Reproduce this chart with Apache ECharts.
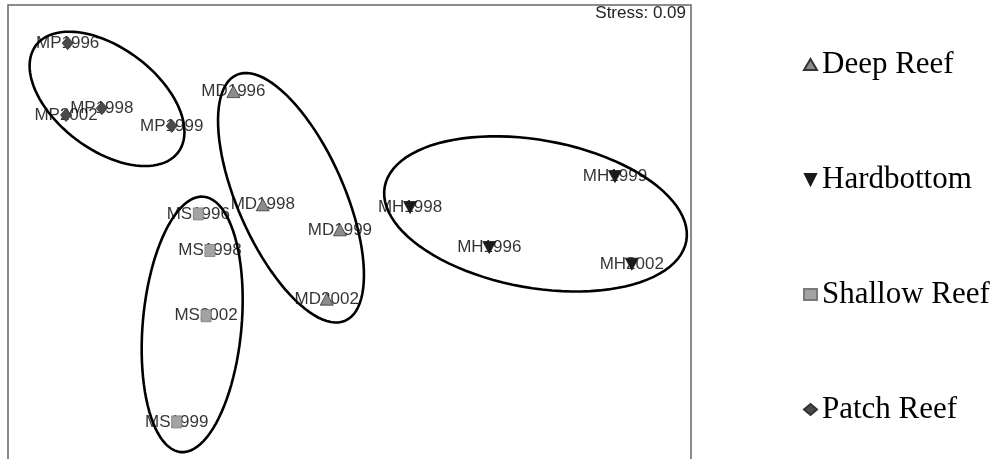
<!DOCTYPE html>
<html>
<head>
<meta charset="utf-8">
<script src="https://cdn.jsdelivr.net/npm/echarts@6/dist/echarts.min.js"></script>
<style>
  html, body { margin: 0; padding: 0; background: #fff; }
  #chart { width: 1003px; height: 459px; }
</style>
</head>
<body>
<div id="chart"></div>
<script>
// nMDS ordination coordinates (arbitrary units)
const deepNames = ['MD1996', 'MD1998', 'MD1999', 'MD2002'];
const deepX = [-0.510, -0.381, -0.042, -0.100];
const deepY = [0.619, 0.121, 0.011, -0.294];

const hardNames = ['MH1996', 'MH1998', 'MH1999', 'MH2002'];
const hardX = [0.614, 0.266, 1.166, 1.240];
const hardY = [-0.067, 0.109, 0.245, -0.140];

const shallowNames = ['MS1996', 'MS1998', 'MS2002', 'MS1999'];
const shallowX = [-0.664, -0.613, -0.630, -0.759];
const shallowY = [0.081, -0.080, -0.367, -0.834];

const patchNames = ['MP1996', 'MP1998', 'MP1999', 'MP2002'];
const patchX = [-1.238, -1.088, -0.781, -1.245];
const patchY = [0.832, 0.546, 0.468, 0.516];

// group ellipses: centre x, centre y, semi-axis a, semi-axis b, angle (deg)
const ellipseCx = [-1.065, -0.257, -0.691, 0.817];
const ellipseCy = [0.587, 0.152, -0.405, 0.081];
const ellipseA = [0.391, 0.591, 0.564, 0.673];
const ellipseB = [0.224, 0.234, 0.217, 0.325];
const ellipseAngle = [-37, -66.2, 84.9, -10.2];

const stressText = 'Stress: 0.09';

const downTriangle = 'path://M0,0L10,0L5,10Z';

function pts(names, xs, ys) {
  return names.map((n, i) => ({ name: n, value: [xs[i], ys[i]] }));
}

const groups = [
  { name: 'Deep Reef', data: pts(deepNames, deepX, deepY), symbol: 'triangle',
    size: [13, 12], color: '#8c8c8c', border: '#333' },
  { name: 'Hardbottom', data: pts(hardNames, hardX, hardY), symbol: downTriangle,
    size: [13, 12], color: '#1a1a1a', border: '#1a1a1a' },
  { name: 'Shallow Reef', data: pts(shallowNames, shallowX, shallowY), symbol: 'rect',
    size: [10, 12], color: '#a3a3a3', border: '#7a7a7a' },
  { name: 'Patch Reef', data: pts(patchNames, patchX, patchY), symbol: 'diamond',
    size: [11, 13], color: '#4a4a4a', border: '#333' }
];

const ellipseData = ellipseCx.map((cx, i) =>
  [cx, ellipseCy[i], ellipseA[i], ellipseB[i], ellipseAngle[i]]);

const chart = echarts.init(document.getElementById('chart'));

const labelFont = 'Liberation Sans';

const series = [
  {
    type: 'custom',
    name: 'ellipses',
    silent: true,
    z: 1,
    clip: false,
    data: ellipseData,
    renderItem: function (params, api) {
      const cx = api.value(0), cy = api.value(1);
      const a = api.value(2), b = api.value(3);
      const t = api.value(4) * Math.PI / 180;
      const points = [];
      for (let k = 0; k < 96; k++) {
        const s = k / 96 * Math.PI * 2;
        const ex = a * Math.cos(s), ey = b * Math.sin(s);
        points.push(api.coord([
          cx + ex * Math.cos(t) - ey * Math.sin(t),
          cy + ex * Math.sin(t) + ey * Math.cos(t)
        ]));
      }
      return {
        type: 'polygon',
        shape: { points: points },
        style: { fill: null, stroke: '#000', lineWidth: 2.6 }
      };
    }
  },
  {
    type: 'scatter',
    name: 'labels',
    silent: true,
    z: 2,
    symbol: 'circle',
    symbolSize: 1,
    itemStyle: { color: 'transparent' },
    data: groups.flatMap(g => g.data),
    label: {
      show: true,
      position: 'inside',
      formatter: '{b}',
      fontFamily: labelFont,
      fontSize: 17,
      color: '#000'
    }
  }
];

groups.forEach(g => {
  series.push({
    type: 'scatter',
    name: g.name,
    z: 3,
    symbol: g.symbol,
    symbolSize: g.size,
    data: g.data,
    itemStyle: { color: g.color, borderColor: g.border, borderWidth: 0.8, opacity: 1 }
  });
});

const option = {
  animation: false,
  backgroundColor: '#fff',
  title: {
    text: stressText,
    right: 317,
    top: 5,
    padding: 0,
    textStyle: { fontFamily: labelFont, fontSize: 17, fontWeight: 'normal', color: '#222' }
  },
  grid: {
    left: 8,
    top: 5,
    width: 683,
    height: 466,
    outerBoundsMode: 'none',
    containLabel: false,
    show: true,
    borderColor: '#666',
    borderWidth: 1.5,
    backgroundColor: 'transparent'
  },
  xAxis: { type: 'value', min: -1.5, max: 1.5, show: false },
  yAxis: { type: 'value', min: -1.05, max: 1, show: false },
  legend: {
    orient: 'vertical',
    left: 803,
    top: 49,
    padding: 0,
    itemGap: 84,
    itemWidth: 13,
    itemHeight: 11,
    selectedMode: false,
    data: [
      { name: 'Deep Reef', icon: 'triangle' },
      { name: 'Hardbottom', icon: downTriangle },
      { name: 'Shallow Reef', icon: 'rect' },
      { name: 'Patch Reef', icon: 'diamond' }
    ],
    textStyle: { fontFamily: 'Liberation Serif', fontSize: 31, color: '#000', lineHeight: 31 }
  },
  tooltip: { show: false },
  series: series
};

chart.setOption(option);
</script>
</body>
</html>
